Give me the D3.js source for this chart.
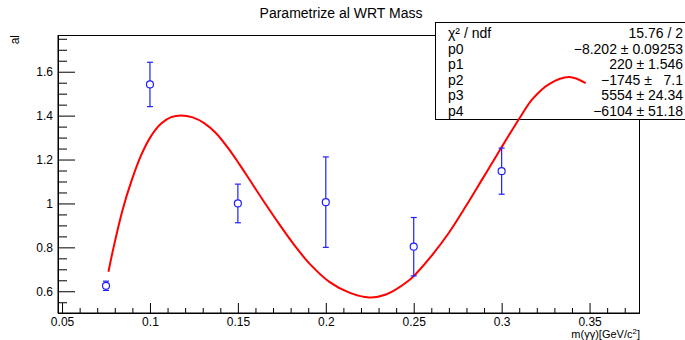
<!DOCTYPE html>
<html><head><meta charset="utf-8">
<script src="https://cdn.jsdelivr.net/npm/d3@7"></script>
<style>
html,body{margin:0;padding:0;background:#fff;}
svg{display:block;font-family:"Liberation Sans",Arial,Helvetica,sans-serif;}
</style></head>
<body><svg id="c" width="685" height="340"></svg>
<script>
// ---- data ----
const pointX = [0.075, 0.1, 0.15, 0.2, 0.25, 0.3];
const pointY = [0.625, 1.542, 1.0, 1.006, 0.803, 1.147];
const pointErr = [0.021, 0.101, 0.088, 0.206, 0.133, 0.105];

const curveX = [0.0764,0.0789,0.0845,0.0893,0.0950,0.1007,0.1064,0.1120,0.1177,0.1243,0.1310,0.1376,0.1452,0.1509,0.1565,0.1641,0.1736,0.1831,0.1906,0.2020,0.2134,0.2247,0.2342,0.2474,0.2513,0.2607,0.2702,0.2797,0.2891,0.2986,0.3099,0.3175,0.3270,0.3384,0.3478];
const curveY = [0.689,0.785,0.972,1.098,1.220,1.308,1.364,1.393,1.401,1.392,1.365,1.320,1.244,1.178,1.110,1.017,0.905,0.800,0.727,0.643,0.594,0.572,0.585,0.650,0.680,0.767,0.869,0.988,1.112,1.238,1.385,1.475,1.544,1.576,1.548];

const xMajor = [0.05,0.1,0.15,0.2,0.25,0.3,0.35];
const xMajorLabels = ["0.05","0.1","0.15","0.2","0.25","0.3","0.35"];
const yMajor = [0.6,0.8,1.0,1.2,1.4,1.6];
const yMajorLabels = ["0.6","0.8","1","1.2","1.4","1.6"];

const statNames = ["χ² / ndf","p0","p1","p2","p3","p4"];
const statValues = ["15.76 / 2","−8.202 ± 0.09253","220 ± 1.546","−1745 ±   7.1","5554 ± 24.34","−6104 ± 51.18"];

const title = "Parametrize al WRT Mass";
const yTitle = "al";

// ---- layout ----
const L = 58, R = 639.5, T = 35.5, B = 313;
const svg = d3.select("#c");
const x = d3.scaleLinear().domain([0.0477, 0.3784]).range([L, R]);
const y = d3.scaleLinear().domain([0.501, 1.765]).range([B, T]);

// frame
svg.append("rect").attr("x", L).attr("y", T).attr("width", R - L).attr("height", B - T)
  .attr("fill", "none").attr("stroke", "#000").attr("stroke-width", 1);

// minor ticks
const xMinor = d3.range(5, 38).map(i => i / 100).filter(v => !xMajor.some(m => Math.abs(m - v) < 1e-9));
const yMinor = d3.range(11, 36).map(i => i * 0.05).filter(v => !yMajor.some(m => Math.abs(m - v) < 1e-9) && v > 0.501 && v < 1.765);

const gx = svg.append("g").attr("transform", `translate(0,${B})`)
  .call(d3.axisBottom(x).tickValues(xMajor).tickSize(-10).tickSizeOuter(0)
    .tickFormat((d, i) => xMajorLabels[i]).tickPadding(4));
const gxm = svg.append("g").attr("transform", `translate(0,${B})`)
  .call(d3.axisBottom(x).tickValues(xMinor).tickSize(-5).tickSizeOuter(0).tickFormat(""));
const gy = svg.append("g").attr("transform", `translate(${L},0)`)
  .call(d3.axisLeft(y).tickValues(yMajor).tickSize(-17).tickSizeOuter(0)
    .tickFormat((d, i) => yMajorLabels[i]).tickPadding(5));
const gym = svg.append("g").attr("transform", `translate(${L},0)`)
  .call(d3.axisLeft(y).tickValues(yMinor).tickSize(-9).tickSizeOuter(0).tickFormat(""));
[gx, gxm, gy, gym].forEach(g => {
  g.select(".domain").attr("stroke", "#000");
  g.selectAll("line").attr("stroke", "#000");
  g.selectAll("text").attr("font-size", 12).attr("fill", "#000")
    .attr("font-family", "Liberation Sans, Arial, sans-serif");
});

// stats box
svg.append("rect").attr("x", 435.5).attr("y", 22.5).attr("width", 260).attr("height", 97)
  .attr("fill", "#fff").attr("stroke", "#000").attr("stroke-width", 1);
const rowY = i => 38 + i * 15.6;
svg.selectAll(".sn").data(statNames).join("text").attr("class", "sn")
  .attr("x", 448).attr("y", (d, i) => rowY(i)).attr("font-size", 14).text(d => d);
svg.selectAll(".sv").data(statValues).join("text").attr("class", "sv")
  .attr("x", 683).attr("y", (d, i) => rowY(i)).attr("font-size", 14)
  .attr("text-anchor", "end").style("white-space", "pre").text(d => d);

// curve
const line = d3.line().x(d => x(d[0])).y(d => y(d[1])).curve(d3.curveCatmullRom.alpha(0.5));
svg.append("path").datum(curveX.map((v, i) => [v, curveY[i]]))
  .attr("d", line).attr("fill", "none").attr("stroke", "#ff0000").attr("stroke-width", 2);

// points with error bars
const pts = pointX.map((v, i) => ({x: v, y: pointY[i], e: pointErr[i]}));
const r = 3.5;
const pg = svg.append("g").attr("stroke", "#2020ff").attr("stroke-width", 1.2).attr("fill", "none");
pts.forEach(p => {
  const cx = x(p.x), cy = y(p.y), yt = y(p.y + p.e), yb = y(p.y - p.e);
  if (cy - r > yt) pg.append("line").attr("x1", cx).attr("x2", cx).attr("y1", yt).attr("y2", cy - r);
  if (yb > cy + r) pg.append("line").attr("x1", cx).attr("x2", cx).attr("y1", cy + r).attr("y2", yb);
  pg.append("line").attr("x1", cx - 3).attr("x2", cx + 3).attr("y1", yt).attr("y2", yt);
  pg.append("line").attr("x1", cx - 3).attr("x2", cx + 3).attr("y1", yb).attr("y2", yb);
  pg.append("circle").attr("cx", cx).attr("cy", cy).attr("r", r).attr("fill", "#fff");
});

// titles
svg.append("text").attr("x", 341).attr("y", 18).attr("text-anchor", "middle")
  .attr("font-size", 14).text(title);
svg.append("text").attr("transform", "translate(19,35) rotate(-90)").attr("text-anchor", "end")
  .attr("font-size", 12).text(yTitle);
const xt = svg.append("text").attr("x", 640).attr("y", 338).attr("text-anchor", "end").attr("font-size", 11);
xt.append("tspan").text("m(γγ)[GeV/c");
xt.append("tspan").attr("dy", -4).attr("font-size", 8).text("2");
xt.append("tspan").attr("dy", 4).text("]");
</script></body></html>
